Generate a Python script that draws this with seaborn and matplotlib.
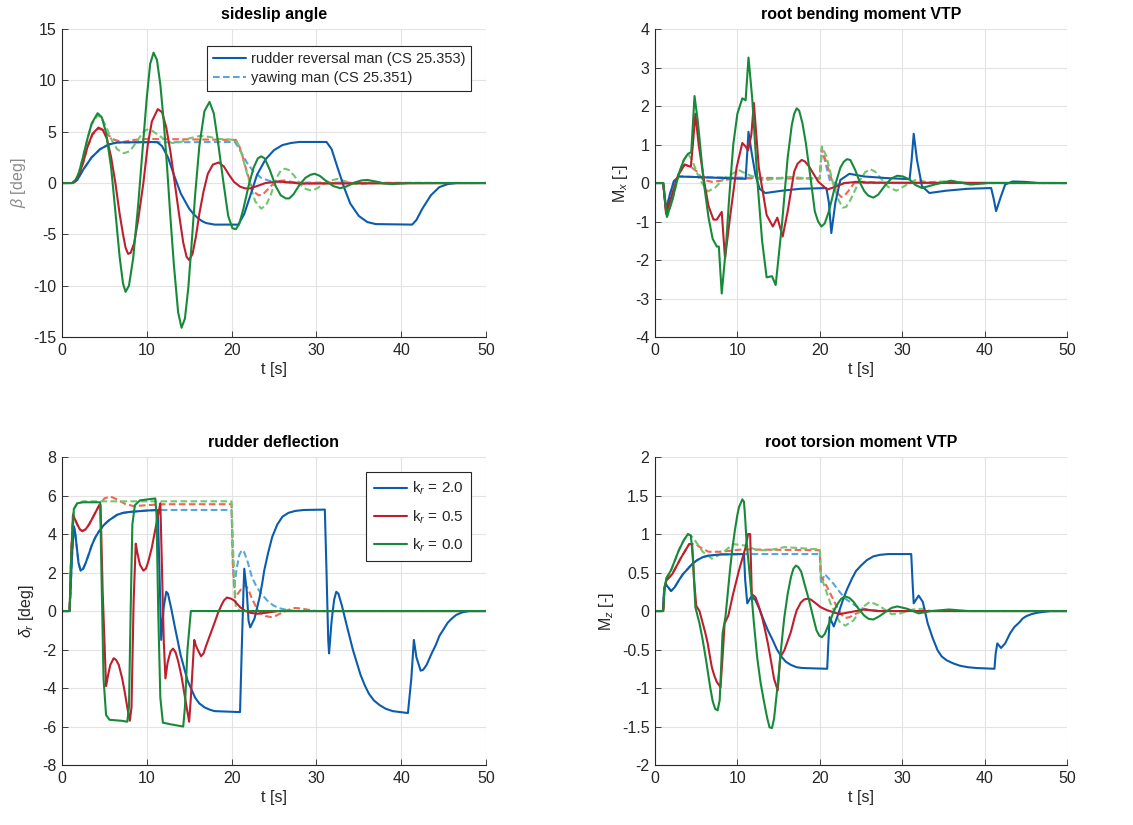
import numpy as np
import pandas as pd
import seaborn as sns
import matplotlib
matplotlib.use("Agg")
import matplotlib.pyplot as plt
from matplotlib.ticker import FuncFormatter, MultipleLocator

# values, (t [s], value) pairs
# rr = rudder reversal man (CS 25.353), yaw = yawing man (CS 25.351), 20/05/00 = k_r

# --- sideslip angle [deg]
beta_rr_20 = [(0, 0), (1.2, 0), (1.5, 0.1), (1.8, 0.3), (2.5, 1.3), (3.5, 2.5), (4.5, 3.3), (5.5, 3.75), (6.5, 3.95),
              (11.2, 4.0), (11.8, 3.6), (12.5, 2.5), (13.2, 0.8), (14, -1.0), (15, -2.5), (15.5, -3.0), (16, -3.4),
              (16.5, -3.7), (17, -3.9), (18, -4.05), (20.8, -4.05), (21.5, -3.0), (22.3, -1.0), (23, 0.8), (24, 2.3),
              (25, 3.2), (26, 3.7), (27, 3.9), (28, 4.0), (31.2, 4.0), (31.8, 3.3), (32.5, 1.5),
              (33.3, -0.5), (34, -2.0), (35, -3.2), (36, -3.8), (37, -4.0), (41.3, -4.05), (41.8, -3.6),
              (42.5, -2.5), (43.5, -1.2), (44.5, -0.4), (45.5, -0.1), (46.5, 0), (50, 0)]
beta_rr_05 = [(0, 0), (1.2, 0), (1.6, 0.25), (2, 0.8), (2.5, 2.0), (3, 3.5), (3.6, 4.8), (4.3, 5.4), (4.8, 5.2),
              (5.3, 4.3), (5.8, 2.5), (6.3, 0), (6.8, -3.0), (7.2, -5.0), (7.5, -6.3), (7.8, -6.9), (8.1, -6.8),
              (8.5, -5.9), (9, -3.5), (9.6, 0), (10.1, 3.6), (10.6, 6.0), (11.3, 7.2), (11.8, 6.9), (12.3, 5.4),
              (12.8, 3.0), (13.3, 0), (13.8, -3.0), (14.3, -5.8), (14.7, -7.2), (15.0, -7.5), (15.4, -6.9),
              (15.8, -5.2), (16.2, -3.0), (16.7, -0.8), (17.2, 0.9), (17.8, 1.8), (18.5, 2.0), (19.1, 1.6),
              (19.7, 0.8), (20.3, 0.1), (21, -0.35), (21.6, -0.52), (22.2, -0.52), (23, -0.3), (24, 0),
              (25.5, 0.15), (27, 0.05), (28, -0.05), (30, -0.05), (50, 0)]
beta_rr_00 = [(0, 0), (1.2, 0), (1.6, 0.3), (2, 1.0), (2.5, 2.6), (3, 4.3), (3.5, 5.8), (4.2, 6.8), (4.7, 6.4),
              (5.2, 4.9), (5.8, 1.5), (6.3, -2.8), (6.8, -7.2), (7.2, -9.8), (7.5, -10.6), (7.9, -10.0),
              (8.4, -7.3), (9, -2), (9.5, 3.2), (10.0, 8.3), (10.4, 11.6), (10.8, 12.7), (11.2, 12.0),
              (11.6, 9.6), (12.0, 6.0), (12.4, 1.5), (12.8, -3.5), (13.2, -8), (13.7, -12.6), (14.1, -14.1),
              (14.5, -13.2), (14.9, -10.2), (15.3, -5.8), (15.7, -1.2), (16.2, 3.6), (16.8, 7.0), (17.4, 7.9),
              (17.9, 6.8), (18.4, 4.0), (19, 0.3), (19.6, -3.2), (20.1, -4.4), (20.5, -4.5), (20.9, -4.0),
              (21.4, -2.5), (22, -0.3), (22.6, 1.5), (23.1, 2.4), (23.5, 2.6), (23.9, 2.4), (24.5, 1.3),
              (25.2, -0.3), (25.8, -1.2), (26.4, -1.5), (26.8, -1.5), (27.3, -1.1), (28, -0.2), (28.7, 0.5),
              (29.3, 0.8), (29.8, 0.9), (30.4, 0.7), (31, 0.3), (32, -0.3), (32.8, -0.5), (33.5, -0.35),
              (34.5, 0.05), (35.3, 0.25), (36, 0.3), (37, 0.15), (38, -0.05), (39, -0.1), (41, 0), (50, 0)]
beta_yaw_20 = [(0, 0), (1.2, 0), (1.5, 0.1), (1.8, 0.3), (2.5, 1.3), (3.5, 2.5), (4.5, 3.3), (5.5, 3.75), (6.5, 3.95),
               (20.4, 4.0), (21, 3.2), (21.8, 2.0), (22.5, 1.2), (23.5, 0.5), (24.5, 0.2), (26, 0.05), (50, 0)]
beta_yaw_05 = [(0, 0), (1.2, 0), (1.6, 0.25), (2, 0.8), (2.5, 2.0), (3, 3.5), (3.6, 4.7), (4.3, 5.3), (4.8, 5.15),
               (5.4, 4.7), (6.2, 4.2), (7.2, 4.0), (8.5, 4.2), (10, 4.3), (20.5, 4.2), (20.9, 3.6), (21.3, 2.6),
               (21.8, 1.1), (22.3, -0.2), (22.7, -0.9), (23.2, -1.2), (23.7, -1.1), (24.3, -0.6), (25, 0),
               (25.6, 0.2), (26.2, 0.25), (27, 0.12), (28.5, -0.05), (30, 0), (50, 0)]
beta_yaw_00 = [(0, 0), (1.2, 0), (1.6, 0.3), (2, 1.0), (2.5, 2.6), (3, 4.3), (3.5, 5.7), (4.2, 6.6), (4.7, 6.3),
               (5.2, 5.5), (5.8, 4.3), (6.5, 3.3), (7.3, 2.9), (8.0, 3.1), (8.8, 4.0), (9.5, 4.9), (10, 5.2),
               (10.6, 5.1), (11.5, 4.6), (12.3, 4.1), (13, 3.9), (14, 4.0), (15, 4.35), (16.3, 4.6), (17.3, 4.5),
               (18.5, 4.3), (20.5, 4.2), (20.9, 3.6), (21.3, 2.5), (21.8, 1.0), (22.3, -0.5), (22.8, -1.8),
               (23.5, -2.5), (24.1, -2.1), (24.6, -1.2), (25.3, 0.5), (25.8, 1.2), (26.3, 1.4), (26.8, 1.25),
               (27.4, 0.7), (28.3, -0.3), (28.8, -0.6), (29.3, -0.7), (29.9, -0.6), (30.7, -0.2), (31.5, 0.2),
               (32.5, 0.4), (33.3, 0.2), (34.2, -0.05), (35, -0.1), (37, 0), (50, 0)]

# --- root bending moment VTP [-]
mx_rr_20 = [(0, 0), (1.0, 0), (1.35, -0.7), (1.8, -0.3), (2.3, 0.05), (2.9, 0.17), (5.8, 0.15), (11.0, 0.11),
            (11.2, 0.8), (11.35, 1.33), (11.7, 0.83), (12.2, 0.2), (12.7, -0.15), (13.4, -0.26), (15.4, -0.2),
            (17.6, -0.15), (20.8, -0.13), (21.1, -0.5), (21.4, -1.3), (21.9, -0.5), (22.5, 0.08), (23.6, 0.24),
            (25.4, 0.17), (28, 0.13), (30.9, 0.1), (31.15, 0.6), (31.4, 1.28), (31.8, 0.6), (32.4, -0.08),
            (33.3, -0.26), (35.3, -0.2), (37.9, -0.15), (40.8, -0.13), (41.1, -0.4), (41.4, -0.73),
            (42, -0.34), (42.5, -0.04), (43.4, 0.04), (44.9, 0.03), (46.5, 0), (50, 0)]
mx_rr_05 = [(0, 0), (1.0, 0), (1.35, -0.8), (2.0, -0.35), (2.8, 0.2), (3.6, 0.48), (4.35, 0.42), (4.6, 1.0),
            (4.9, 1.8), (5.3, 1.0), (6.0, 0), (6.5, -0.6), (7.1, -0.95), (7.5, -0.95), (8.1, -0.75),
            (8.5, -1.96), (9.1, -0.9), (9.9, 0.4), (10.6, 1.04), (11.0, 0.95), (11.3, 0.85), (11.7, 1.26),
            (12.0, 2.08), (12.6, 0.4), (13.55, -0.83), (14.3, -1.13), (14.85, -0.9), (15.5, -1.39),
            (16.1, -0.74), (16.9, 0.3), (17.3, 0.5), (17.8, 0.6), (18.2, 0.56), (18.7, 0.43), (19.8, 0.04),
            (20.9, -0.17), (22, -0.09), (23, 0), (24.5, 0.03), (26, 0.01), (50, 0)]
mx_rr_00 = [(0, 0), (1.0, 0), (1.45, -0.88), (2.1, -0.45), (2.9, 0.25), (3.5, 0.6), (4.0, 0.76), (4.4, 0.8),
            (4.8, 2.26), (5.2, 1.6), (5.9, 0.05), (6.5, -0.9), (7.0, -1.45), (7.5, -1.65), (7.75, -1.65),
            (8.1, -2.87), (8.6, -1.7), (9.0, -0.4), (9.5, 1.0), (10.0, 1.8), (10.6, 2.2), (11.0, 2.15),
            (11.35, 3.26), (11.8, 2.2), (12.45, 0), (13.0, -1.5), (13.55, -2.45), (14.2, -2.42),
            (14.65, -2.65), (15.4, -1.1), (16.1, 0.65), (16.6, 1.5), (16.9, 1.8), (17.2, 1.94), (17.5, 1.88),
            (17.9, 1.55), (18.3, 1.05), (18.9, 0.1), (19.4, -0.74), (19.8, -1.0), (20.2, -1.13), (20.6, -1.05),
            (21.1, -0.74), (22.0, 0.04), (22.5, 0.4), (22.9, 0.55), (23.3, 0.62), (23.7, 0.6), (24.3, 0.34),
            (24.9, 0.0), (25.4, -0.21), (25.9, -0.33), (26.5, -0.38), (27.1, -0.3), (28, -0.04), (28.7, 0.12),
            (29.4, 0.19), (30.1, 0.17), (30.9, 0.09), (31.6, -0.05), (32.4, -0.13), (33.9, -0.04),
            (35.9, 0.06), (38.3, -0.04), (40.5, 0), (50, 0)]
mx_yaw_20 = [(0, 0), (1.0, 0), (1.35, -0.7), (1.8, -0.3), (2.3, 0.05), (2.9, 0.17), (5.8, 0.15), (20.0, 0.12),
             (20.25, 0.9), (20.6, 0.6), (21.2, 0.08), (22.1, -0.04), (23, 0), (50, 0)]
mx_yaw_05 = [(0, 0), (1.0, 0), (1.35, -0.8), (2.0, -0.35), (2.8, 0.2), (3.6, 0.48), (4.35, 0.42), (5.1, 0.3),
             (5.8, 0.09), (6.9, 0.03), (8.0, 0.06), (9.5, 0.12), (20.0, 0.12), (20.25, 0.88), (20.7, 0.6),
             (21.5, 0.05), (22.1, -0.25), (22.6, -0.36), (23.0, -0.33), (23.5, -0.2), (24.3, 0.04),
             (25.5, 0.03), (28, 0), (50, 0)]
mx_yaw_00 = [(0, 0), (1.0, 0), (1.45, -0.88), (2.1, -0.45), (2.9, 0.25), (3.5, 0.6), (4.0, 0.76), (4.5, 0.6),
             (5.4, 0.1), (6.4, -0.22), (7.3, -0.12), (8.5, 0.15), (10.2, 0.33), (11.5, 0.2), (13.2, 0.07),
             (14.8, 0.12), (16.3, 0.16), (18, 0.13), (20.0, 0.12), (20.25, 0.95), (20.8, 0.7), (21.6, 0.0),
             (22.3, -0.45), (22.8, -0.64), (23.2, -0.62), (23.7, -0.45), (24.8, 0.05), (25.5, 0.28),
             (26.1, 0.36), (26.7, 0.3), (27.3, 0.15), (28.3, -0.1), (29.3, -0.2), (30.5, -0.05), (31.7, 0.09),
             (33, 0.02), (35.9, 0.05), (38, 0), (50, 0)]

# --- rudder deflection [deg]
dr_rr_20 = [(0, 0), (0.9, 0), (1.2, 3.0), (1.4, 4.4), (1.55, 4.1), (1.7, 3.5), (1.95, 2.5), (2.2, 2.1),
            (2.5, 2.2), (2.8, 2.5), (3.2, 3.0), (3.5, 3.4), (3.9, 3.8), (4.3, 4.1), (4.9, 4.45), (5.5, 4.7),
            (6.5, 5.0), (7.2, 5.1), (8, 5.15), (10, 5.22), (11.3, 5.25), (11.5, 2.0), (11.7, -1.5),
            (12.0, 0.2), (12.3, 1.0), (12.5, 0.9), (12.9, 0.1), (13.3, -0.8), (14.0, -2.3), (14.8, -3.6),
            (15.3, -4.1), (15.7, -4.5), (16.2, -4.8), (16.8, -5.0), (17.4, -5.12), (18, -5.2), (21, -5.25),
            (21.2, -2.0), (21.4, 1.0), (21.5, 2.2), (21.8, 1.0), (22, -0.5), (22.2, -0.85), (22.7, -0.4),
            (23.3, 0.7), (23.6, 1.4), (23.85, 2.1), (24.3, 3.0), (24.8, 3.86), (25.4, 4.5), (26, 4.9),
            (26.7, 5.1), (27.5, 5.2), (28.5, 5.25), (31, 5.27), (31.2, 2.0), (31.4, -1.5), (31.5, -2.2),
            (31.8, -0.5), (32.1, 0.6), (32.35, 1.0), (32.6, 0.9), (33, 0.3), (33.5, -0.6), (34.3, -2.0),
            (35.2, -3.3), (35.7, -3.85), (36.2, -4.3), (36.8, -4.65), (37.5, -4.9), (38.2, -5.08), (39, -5.2),
            (40.8, -5.3), (41.2, -3.5), (41.5, -1.5), (41.8, -2.4), (42.3, -3.1), (42.6, -3.05), (43, -2.8),
            (43.6, -2.2), (44.1, -1.75), (44.5, -1.3), (45, -0.95), (45.5, -0.6), (46, -0.38), (46.5, -0.2),
            (47.2, -0.07), (48, 0), (50, 0)]
dr_rr_05 = [(0, 0), (0.9, 0), (1.1, 3.0), (1.3, 5.0), (1.55, 4.75), (1.8, 4.5), (2.1, 4.25), (2.4, 4.15),
            (2.8, 4.25), (3.2, 4.5), (3.8, 5.0), (4.4, 5.5), (4.55, 5.5), (4.8, 1.0), (5.2, -3.9), (5.45, -3.3),
            (5.7, -2.8), (6.1, -2.45), (6.4, -2.55), (6.7, -2.8), (7.1, -3.5), (7.4, -4.2), (7.7, -5.0),
            (8.0, -5.7), (8.2, -5.0), (8.45, 0.5), (8.7, 3.5), (8.9, 3.0), (9.2, 2.4), (9.6, 2.1), (9.9, 2.2),
            (10.2, 2.6), (10.6, 3.3), (10.9, 4.0), (11.3, 4.9), (11.6, 5.6), (11.75, 3.0), (12.0, -1.5),
            (12.2, -3.5), (12.45, -2.7), (12.8, -2.1), (13.1, -1.95), (13.4, -2.15), (13.7, -2.6),
            (14.1, -3.4), (14.4, -4.2), (14.7, -5.0), (15.0, -5.75), (15.2, -4.5), (15.6, -1.5), (15.8, -1.8),
            (16.0, -2.0), (16.4, -2.35), (16.7, -2.2), (17.0, -1.8), (17.5, -1.2), (18.0, -0.6), (18.4, -0.1),
            (18.8, 0.3), (19.1, 0.55), (19.45, 0.7), (19.9, 0.65), (20.3, 0.55), (20.6, 0.4), (21.0, 0.2),
            (21.65, 0), (22.3, -0.1), (23.1, -0.14), (24.4, -0.07), (25.5, 0), (50, 0)]
dr_rr_00 = [(0, 0), (0.9, 0), (1.1, 3.0), (1.4, 5.3), (1.8, 5.6), (2.5, 5.65), (4.5, 5.65), (4.7, 1.0),
            (4.9, -3.5), (5.2, -5.4), (5.6, -5.65), (7.0, -5.7), (7.7, -5.75), (7.9, -5.0), (8.1, 0),
            (8.3, 4.5), (8.6, 5.5), (9.2, 5.75), (11.0, 5.85), (11.15, 5.0), (11.35, 0), (11.6, -4.5),
            (11.9, -5.8), (13.0, -5.9), (14.3, -6.0), (14.5, -5.0), (14.8, -2.0), (15.2, 0), (50, 0)]
dr_yaw_20 = [(0, 0), (0.9, 0), (1.2, 3.0), (1.4, 4.4), (1.55, 4.1), (1.7, 3.5), (1.95, 2.5), (2.2, 2.1),
             (2.5, 2.2), (2.8, 2.5), (3.2, 3.0), (3.5, 3.4), (3.9, 3.8), (4.3, 4.1), (4.9, 4.45), (5.5, 4.7),
             (6.5, 5.0), (7.2, 5.1), (8, 5.15), (10, 5.22), (11.3, 5.25), (20.0, 5.25), (20.15, 2.5),
             (20.3, 1.2), (20.6, 2.2), (20.9, 2.9), (21.2, 3.17), (21.5, 3.05), (21.9, 2.55), (22.4, 1.77),
             (22.9, 1.3), (23.5, 0.9), (24.2, 0.55), (24.9, 0.3), (25.6, 0.15), (26.4, 0.07), (27.5, 0), (50, 0)]
dr_yaw_05 = [(0, 0), (0.9, 0), (1.1, 3.0), (1.3, 5.0), (1.55, 4.75), (1.8, 4.5), (2.1, 4.25), (2.4, 4.15),
             (2.8, 4.25), (3.2, 4.5), (3.8, 5.0), (4.4, 5.5), (5.0, 5.85), (5.7, 5.95), (6.5, 5.8), (7.5, 5.55),
             (8.5, 5.45), (10, 5.5), (12, 5.55), (20.0, 5.55), (20.15, 2.5), (20.4, 0.7), (20.9, 1.0),
             (21.3, 1.25), (21.65, 1.34), (22.0, 1.1), (22.3, 0.75), (22.7, 0.38), (23.1, 0.05), (23.5, -0.14),
             (24.0, -0.26), (24.6, -0.31), (25.2, -0.25), (25.7, -0.14), (26.6, 0.05), (27.5, 0.16),
             (28.2, 0.13), (29, 0.07), (30, 0), (50, 0)]
dr_yaw_00 = [(0, 0), (0.9, 0), (1.1, 3.0), (1.4, 5.3), (1.8, 5.6), (2.5, 5.7), (20.0, 5.7), (20.2, 3.0),
             (20.5, 0.2), (21, 0), (50, 0)]

# --- root torsion moment VTP [-]
mz_rr_20 = [(0, 0), (0.96, 0), (1.1, 0.25), (1.3, 0.35), (1.95, 0.26), (2.4, 0.31), (2.9, 0.4), (3.4, 0.48),
            (4.0, 0.55), (4.5, 0.61), (5.1, 0.66), (5.8, 0.7), (6.5, 0.72), (8, 0.735), (10.8, 0.74),
            (10.95, 0.4), (11.2, 0.1), (11.7, 0.19), (12.2, 0.14), (12.7, 0.02), (13.2, -0.12), (13.7, -0.25),
            (14.3, -0.38), (14.8, -0.5), (15.4, -0.6), (15.9, -0.66), (16.5, -0.7), (17.2, -0.73),
            (17.9, -0.74), (20.9, -0.75), (21.05, -0.4), (21.2, -0.08), (21.7, -0.2), (22.2, -0.05),
            (22.8, 0.14), (23.3, 0.28), (23.9, 0.42), (24.4, 0.52), (25, 0.59), (25.7, 0.66), (26.5, 0.71),
            (27.3, 0.73), (28.3, 0.74), (31.1, 0.74), (31.25, 0.4), (31.4, 0.1), (32, 0.2), (32.5, 0.12),
            (33.1, -0.16), (33.7, -0.35), (34.3, -0.51), (34.8, -0.59), (35.4, -0.64), (36.2, -0.68),
            (37, -0.71), (38, -0.73), (39, -0.74), (41.2, -0.75), (41.35, -0.55), (41.55, -0.42), (42, -0.48),
            (42.5, -0.42), (43.1, -0.29), (43.6, -0.21), (44.2, -0.15), (44.6, -0.1), (45, -0.07),
            (45.7, -0.04), (46.5, -0.02), (48, 0), (50, 0)]
mz_rr_05 = [(0, 0), (1.0, 0), (1.15, 0.3), (1.4, 0.4), (2.1, 0.48), (3.2, 0.7), (4.15, 0.87), (4.5, 0.87),
            (4.75, 0.4), (5.0, 0.07), (5.4, 0), (5.8, -0.16), (6.1, -0.28), (6.4, -0.42), (6.65, -0.58),
            (6.9, -0.73), (7.2, -0.84), (7.5, -0.92), (7.95, -0.99), (8.2, -0.6), (8.45, -0.16), (8.9, -0.06),
            (9.5, 0.23), (10.2, 0.53), (11.0, 0.83), (11.3, 1.0), (11.55, 1.0), (11.75, 0.22), (12.2, 0.18),
            (12.6, 0.06), (13.0, -0.08), (13.35, -0.24), (13.7, -0.42), (14.1, -0.66), (14.45, -0.88),
            (14.9, -1.03), (15.2, -0.6), (15.7, -0.51), (16.5, -0.27), (16.9, -0.1), (17.2, 0.01),
            (17.7, 0.11), (18.1, 0.15), (18.5, 0.16), (18.9, 0.15), (19.4, 0.11), (20.1, 0.05), (20.9, 0.01),
            (22.4, -0.04), (23.9, -0.01), (25.4, 0.02), (27, 0), (50, 0)]
mz_rr_00 = [(0, 0), (1.0, 0), (1.15, 0.3), (1.4, 0.43), (1.95, 0.53), (2.9, 0.79), (3.5, 0.92), (4.0, 1.0),
            (4.35, 0.98), (4.6, 0.7), (4.9, 0.05), (5.4, -0.16), (5.8, -0.38), (6.2, -0.64), (6.7, -0.99),
            (7.0, -1.17), (7.3, -1.27), (7.6, -1.29), (7.85, -1.16), (8.0, -0.8), (8.2, -0.29), (8.55, -0.08),
            (9.1, 0.53), (9.4, 0.82), (9.7, 1.05), (10.0, 1.25), (10.2, 1.35), (10.6, 1.45), (10.8, 1.42),
            (10.95, 1.2), (11.1, 0.92), (11.4, 0.58), (11.7, 0.23), (12.0, -0.15), (12.4, -0.6), (12.8, -0.92),
            (13.2, -1.16), (13.6, -1.38), (13.9, -1.51), (14.2, -1.52), (14.45, -1.4), (14.7, -1.15),
            (15.0, -0.85), (15.2, -0.6), (15.5, -0.28), (15.7, -0.08), (16.1, 0.22), (16.5, 0.44),
            (16.8, 0.55), (17.1, 0.59), (17.4, 0.57), (17.75, 0.51), (18.2, 0.33), (18.7, 0.14),
            (19.2, -0.08), (19.6, -0.25), (19.95, -0.32), (20.25, -0.34), (20.6, -0.3), (20.9, -0.22),
            (21.3, -0.12), (21.7, 0.0), (22.2, 0.1), (22.6, 0.16), (23.1, 0.19), (23.6, 0.17), (24.1, 0.12),
            (24.7, 0.03), (25.4, -0.06), (25.9, -0.1), (26.5, -0.11), (27.2, -0.07), (28, -0.01),
            (28.7, 0.04), (29.4, 0.06), (30.6, 0.03), (32, -0.03), (33.5, 0), (35.7, 0.02), (38, 0), (50, 0)]
mz_yaw_20 = [(0, 0), (0.96, 0), (1.1, 0.25), (1.3, 0.35), (1.95, 0.26), (2.4, 0.31), (2.9, 0.4), (3.4, 0.48),
             (4.0, 0.55), (4.5, 0.61), (5.1, 0.66), (5.8, 0.7), (6.5, 0.72), (8, 0.735), (10.8, 0.74),
             (20.0, 0.74), (20.15, 0.35), (20.6, 0.48), (21.7, 0.35), (22.4, 0.25), (23.1, 0.16), (24.6, 0.05),
             (26.1, 0.01), (28, 0), (50, 0)]
mz_yaw_05 = [(0, 0), (1.0, 0), (1.15, 0.3), (1.4, 0.4), (2.1, 0.48), (3.2, 0.7), (4.15, 0.87), (4.9, 0.87),
             (5.6, 0.82), (6.5, 0.77), (8, 0.77), (10.6, 0.8), (20.0, 0.79), (20.15, 0.45), (20.9, 0.31),
             (22, 0.07), (22.6, -0.04), (23.1, -0.09), (23.6, -0.08), (24.3, -0.04), (25.4, 0.02), (27, 0), (50, 0)]
mz_yaw_00 = [(0, 0), (1.0, 0), (1.15, 0.3), (1.4, 0.43), (1.95, 0.53), (2.9, 0.79), (3.5, 0.92), (4.0, 1.0),
             (4.35, 0.98), (4.7, 0.94), (5.8, 0.77), (6.9, 0.68), (8, 0.74), (9.5, 0.87), (11, 0.85),
             (12.4, 0.79), (13.9, 0.79), (15.7, 0.83), (17.2, 0.82), (20.0, 0.8), (20.15, 0.45), (21.3, 0.1),
             (22.4, -0.14), (23.1, -0.19), (24.1, -0.12), (25.2, 0.05), (26.1, 0.12), (27.2, 0.07),
             (28.7, -0.04), (29.8, -0.03), (31.3, 0.02), (32.4, 0.03), (33.5, 0), (50, 0)]

titles = ["sideslip angle", "root bending moment VTP", "rudder deflection", "root torsion moment VTP"]
ylabels = ["$\\beta$ [deg]", "M$_x$ [-]", "$\\delta_r$ [deg]", "M$_z$ [-]"]
ylims = [(-15, 15), (-4, 4), (-8, 8), (-2, 2)]
ysteps = [5, 1, 2, 0.5]
kr_labels = ["k$_r$ = 2.0", "k$_r$ = 0.5", "k$_r$ = 0.0"]
man_labels = ["rudder reversal man (CS 25.353)", "yawing man (CS 25.351)"]

solid_cols = ["#0b5cad", "#be1e2d", "#178a3a"]
dash_cols = ["#5aa5dc", "#f46450", "#72c672"]

panels = [
    ([beta_rr_20, beta_rr_05, beta_rr_00], [beta_yaw_20, beta_yaw_05, beta_yaw_00]),
    ([mx_rr_20, mx_rr_05, mx_rr_00], [mx_yaw_20, mx_yaw_05, mx_yaw_00]),
    ([dr_rr_20, dr_rr_05, dr_rr_00], [dr_yaw_20, dr_yaw_05, dr_yaw_00]),
    ([mz_rr_20, mz_rr_05, mz_rr_00], [mz_yaw_20, mz_yaw_05, mz_yaw_00]),
]

sns.set_theme(style="whitegrid")
plt.rcParams['font.family'] = ['Liberation Sans', 'DejaVu Sans']
plt.rcParams['axes.unicode_minus'] = False
plt.rcParams['mathtext.fontset'] = 'custom'
plt.rcParams['mathtext.rm'] = 'Liberation Sans'
plt.rcParams['mathtext.it'] = 'Liberation Sans:italic'

fig = plt.figure(figsize=(11.33, 8.25), dpi=100)
fig.patch.set_facecolor("white")
positions = [[0.0547, 0.5915, 0.3742, 0.3733], [0.5781, 0.5915, 0.3636, 0.3733],
             [0.0547, 0.0727, 0.3742, 0.3733], [0.5781, 0.0727, 0.3636, 0.3733]]

dark = "#262626"
axes = []
for i, (solids, dashed) in enumerate(panels):
    ax = fig.add_axes(positions[i])
    ax.set_facecolor("white")
    solid_lines = []
    dash_lines = []
    # yawing maneuver first (dashed), then rudder reversal on top
    for pts, col in zip(dashed, dash_cols):
        df = pd.DataFrame(pts, columns=["t", "v"])
        sns.lineplot(data=df, x="t", y="v", ax=ax, color=col, lw=1.5, linestyle=(0, (3.2, 1.6)),
                     sort=False, estimator=None)
        dash_lines.append(ax.get_lines()[-1])
    for pts, col in zip(solids, solid_cols):
        df = pd.DataFrame(pts, columns=["t", "v"])
        sns.lineplot(data=df, x="t", y="v", ax=ax, color=col, lw=1.5, sort=False, estimator=None)
        solid_lines.append(ax.get_lines()[-1])

    ax.set_xlim(0, 50)
    ax.set_ylim(*ylims[i])
    ax.xaxis.set_major_locator(MultipleLocator(10))
    ax.yaxis.set_major_locator(MultipleLocator(ysteps[i]))
    ax.yaxis.set_major_formatter(FuncFormatter(lambda v, p: "%g" % v))
    ax.grid(True, color="#e3e3e3", lw=0.8)
    for s in ["top", "right"]:
        ax.spines[s].set_visible(False)
    for s in ["left", "bottom"]:
        ax.spines[s].set_visible(True)
        ax.spines[s].set_color(dark)
        ax.spines[s].set_linewidth(0.8)
    ax.tick_params(direction="in", length=4, width=0.6, color=dark, labelcolor=dark,
                   labelsize=11.5, pad=4, left=True, bottom=True)
    ax.set_title(titles[i], fontsize=11.5, fontweight="bold", color="black", pad=7)
    ax.set_xlabel("t [s]", fontsize=11.5, color=dark, labelpad=3)
    ycol = "#8a8a8a" if i == 0 else dark
    ax.set_ylabel(ylabels[i], fontsize=11.5, color=ycol, labelpad=4)
    axes.append((ax, solid_lines, dash_lines))

# legends
ax0, sl0, dl0 = axes[0]
leg = ax0.legend([sl0[0], dl0[0]], man_labels, loc="upper right", bbox_to_anchor=(0.965, 0.945),
                 frameon=True, fancybox=False, framealpha=1, edgecolor=dark, fontsize=10.5,
                 handlelength=2.3, borderpad=0.4, labelspacing=0.35, handletextpad=0.3, borderaxespad=0)
leg.get_frame().set_linewidth(0.8)

ax2, sl2, dl2 = axes[2]
leg = ax2.legend(sl2, kr_labels, loc="upper right", bbox_to_anchor=(0.965, 0.95),
                 frameon=True, fancybox=False, framealpha=1, edgecolor=dark, fontsize=11,
                 handlelength=2.2, borderpad=0.5, labelspacing=0.7, handletextpad=0.3, borderaxespad=0)
leg.get_frame().set_linewidth(0.8)

fig.savefig("out.png", dpi=100, facecolor="white")
